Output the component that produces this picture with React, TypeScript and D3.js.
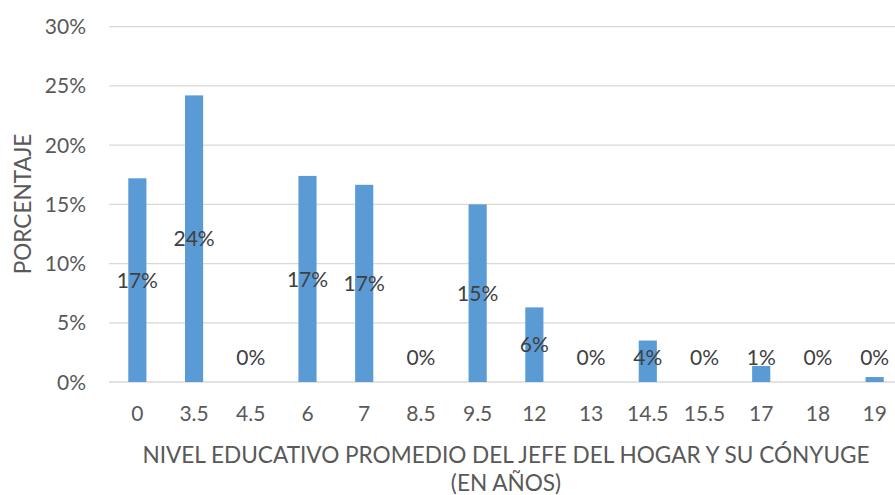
import React from "react";
import * as d3 from "d3";

const categories = ["0", "3.5", "4.5", "6", "7", "8.5", "9.5", "12", "13", "14.5", "15.5", "17", "18", "19"];
const values = [17.2, 24.2, 0, 17.4, 16.65, 0, 15.0, 6.3, 0, 3.5, 0, 1.35, 0, 0.42];
const yTicks = [0, 5, 10, 15, 20, 25, 30];
const yTitle = "PORCENTAJE";
const xTitle1 = "NIVEL EDUCATIVO PROMEDIO DEL JEFE DEL HOGAR Y SU CÓNYUGE";
const xTitle2 = "(EN AÑOS)";

const W = 895;
const H = 495;
const FONT = "Lato, 'Open Sans', sans-serif";
const NUM_FS = 21;
const TITLE_FS = 22.6;

export default function App() {
  const x = d3.scaleBand<string>().domain(categories).range([109, 903]).paddingInner(0.68).paddingOuter(0.34);
  const y = d3.scaleLinear().domain([0, 30]).range([382, 26.7]);
  const fmt = (v: number) => `${Math.round(v)}%`;
  const labelMaxY = 357;

  return (
    <div>
      <style>{"body{margin:0;}"}</style>
      <svg width={W} height={H} style={{ display: "block", background: "#fff" }} fontFamily={FONT}>
        {yTicks.map((t) => (
          <g key={t}>
            <line x1={109} x2={W} y1={y(t)} y2={y(t)} stroke="#d9d9d9" strokeWidth={1.3} />
            <text x={86} y={y(t)} dy="0.36em" textAnchor="end" fontSize={NUM_FS} fill="#595959">
              {t}%
            </text>
          </g>
        ))}
        {categories.map((c, i) => (
          <rect
            key={c}
            x={x(c)}
            width={x.bandwidth()}
            y={y(values[i])}
            height={y(0) - y(values[i])}
            fill="#5B9BD5"
          />
        ))}
        {categories.map((c, i) => {
          const cy = Math.min((y(values[i]) + y(0)) / 2, labelMaxY);
          return (
            <text
              key={"l" + c}
              x={(x(c) as number) + x.bandwidth() / 2}
              y={cy}
              dy="0.36em"
              textAnchor="middle"
              fontSize={NUM_FS}
              fill="#404040"
            >
              {fmt(values[i])}
            </text>
          );
        })}
        {categories.map((c) => (
          <text
            key={"t" + c}
            x={(x(c) as number) + x.bandwidth() / 2}
            y={413}
            dy="0.36em"
            textAnchor="middle"
            fontSize={NUM_FS}
            fill="#595959"
          >
            {c}
          </text>
        ))}
        <text
          transform={`translate(23,204) rotate(-90)`}
          textAnchor="middle"
          dy="0.36em"
          fontSize={TITLE_FS}
          fill="#595959"
        >
          {yTitle}
        </text>
        <text x={506} y={455} dy="0.36em" textAnchor="middle" fontSize={TITLE_FS} fill="#595959">
          {xTitle1}
        </text>
        <text x={506} y={483} dy="0.36em" textAnchor="middle" fontSize={TITLE_FS} fill="#595959">
          {xTitle2}
        </text>
      </svg>
    </div>
  );
}
